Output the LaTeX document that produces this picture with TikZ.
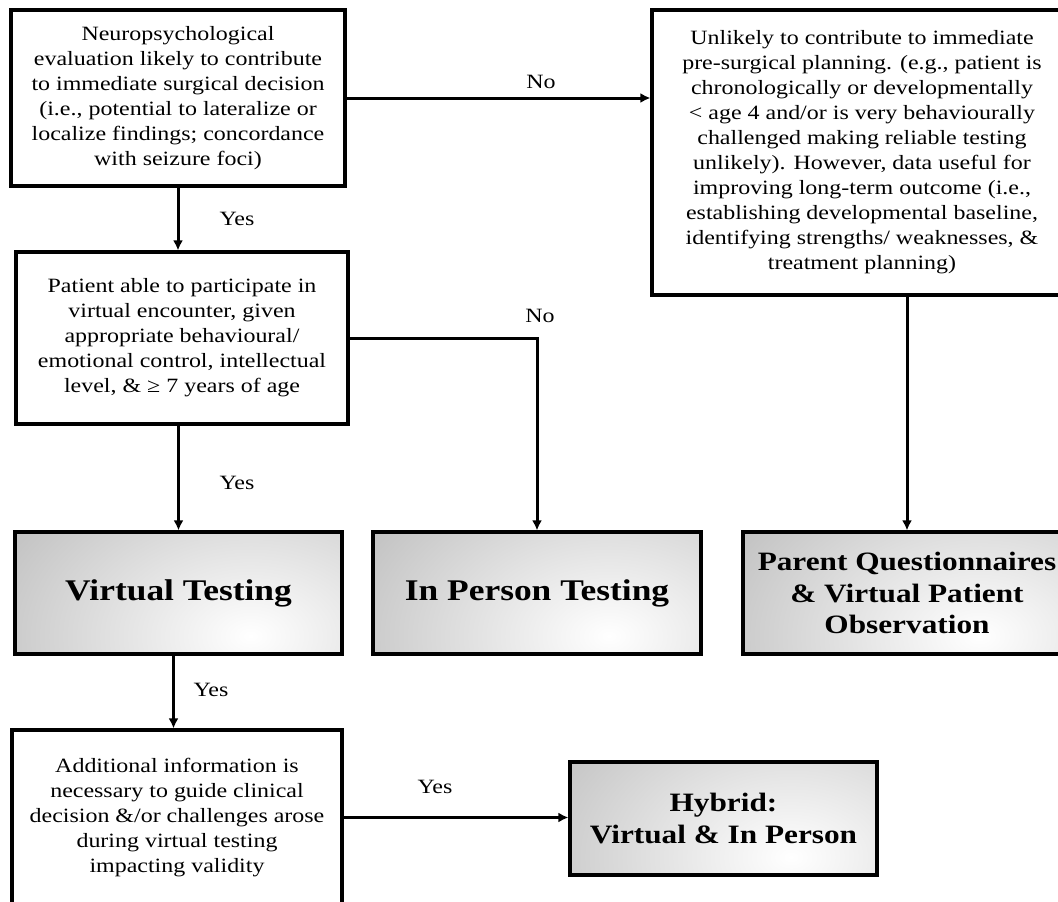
\documentclass[tikz,border=0pt]{standalone}
\usepackage{fontspec}
\setmainfont{Liberation Serif}[FakeStretch=1.18]
\usetikzlibrary{calc}
\usetikzlibrary{arrows.meta}

\definecolor{shadegray}{RGB}{160,160,160}
\newcommand{\plaintxt}{\fontsize{20.3}{25}\selectfont}
\newcommand{\bigbold}{\fontsize{30}{36}\selectfont\bfseries}
\newcommand{\midbold}{\fontsize{26.5}{31.7}\selectfont\bfseries}

\tikzset{
  qbox/.style={draw, line width=3.2pt, align=center, font=\plaintxt, inner sep=2pt},
  rbox/.style={draw, line width=3.2pt, align=center, inner sep=2pt,
    path picture={
      \fill[shadegray] (path picture bounding box.south west) rectangle (path picture bounding box.north east);
      \shade[inner color=white, outer color=shadegray]
        ([yshift=18pt]$(path picture bounding box.south west)!0.72!(path picture bounding box.south east)$) ellipse (440pt and 300pt);
    }},
  flow/.style={line width=3pt, -{Latex[length=10pt,width=10pt]}},
  lbl/.style={font=\plaintxt}
}

\begin{document}
\begin{tikzpicture}[x=1pt,y=-1pt]
\useasboundingbox (0,0) rectangle (1058,902);
\clip (0,0) rectangle (1058,902);
% question boxes
\node[qbox, minimum width=334pt, minimum height=176pt] (neuro) at (178,98) {Neuropsychological\\ evaluation likely to contribute\\ to immediate surgical decision\\ (i.e., potential to lateralize or\\ localize findings; concordance\\ with seizure foci)};
\node[qbox, minimum width=420pt, minimum height=285pt] (unlikely) at (862,152.5) {Unlikely to contribute to immediate\\ pre-surgical planning. (e.g., patient is\\ chronologically or developmentally\\ < age 4 and/or is very behaviourally\\ challenged making reliable testing\\ unlikely). However, data useful for\\ improving long-term outcome (i.e.,\\ establishing developmental baseline,\\ identifying strengths/ weaknesses, \&\\ treatment planning)};
\node[qbox, minimum width=332pt, minimum height=172pt] (able) at (182,338) {Patient able to participate in\\ virtual encounter, given\\ appropriate behavioural/\\ emotional control, intellectual\\ level, \& ≥ 7 years of age};
\node[qbox, minimum width=330pt, minimum height=175pt] (additional) at (177,817.5) {Additional information is\\ necessary to guide clinical\\ decision \&/or challenges arose\\ during virtual testing\\ impacting validity};
% result boxes
\node[rbox, font=\bigbold, minimum width=327pt, minimum height=122pt] (virtual) at (178.5,593) {Virtual Testing};
\node[rbox, font=\bigbold, minimum width=328pt, minimum height=122pt] (inperson) at (537,593) {In Person Testing};
\node[rbox, font=\midbold, minimum width=328pt, minimum height=122pt] (parent) at (907,593) {Parent Questionnaires\\ \& Virtual Patient\\ Observation};
\node[rbox, font=\midbold, minimum width=307pt, minimum height=113pt] (hybrid) at (723.5,818.5) {Hybrid:\\ Virtual \& In Person};
% connectors
\draw[flow] (neuro.south) -- (neuro.south |- able.north);
\draw[flow] (neuro.east) -- (neuro.east -| unlikely.west);
\draw[flow] (able.east) -| (inperson.north);
\draw[flow] (able.south -| virtual.north) -- (virtual.north);
\draw[flow] (unlikely.south -| parent.north) -- (parent.north);
\draw[flow] ([xshift=-5pt]virtual.south) -- ([xshift=-5pt]virtual.south |- additional.north);
\draw[flow] (additional.east) -- (additional.east -| hybrid.west);
% labels
\node[lbl] (yesneuro) at (237,219) {Yes};
\node[lbl] (noneuro) at (541,82) {No};
\node[lbl] (noable) at (540,316) {No};
\node[lbl] (yesable) at (237,483) {Yes};
\node[lbl] (yesvirtual) at (211,690) {Yes};
\node[lbl] (yesadd) at (435,787) {Yes};
\end{tikzpicture}
\end{document}
